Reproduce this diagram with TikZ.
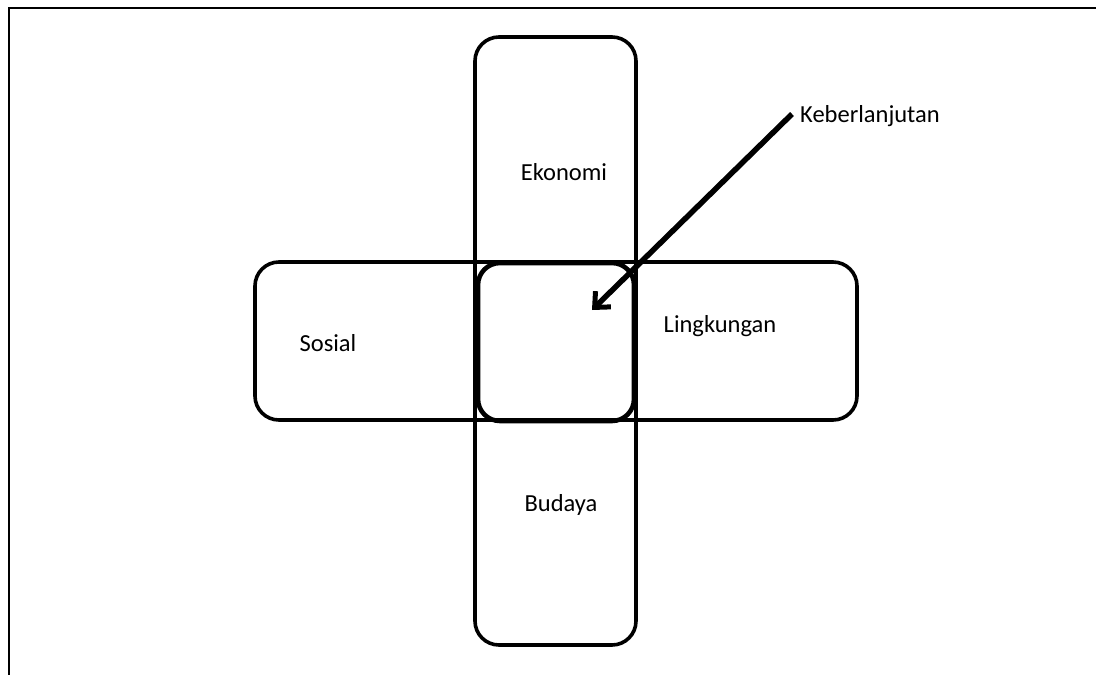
\documentclass[tikz,border=0pt]{standalone}
\usepackage{fontspec}
\setmainfont{Carlito}
\usetikzlibrary{arrows.meta}
\begin{document}
\begin{tikzpicture}[x=1pt,y=-1pt,
  box/.style={draw=black,line width=3.6pt,rounded corners=24pt,inner sep=0pt},
  lbl/.style={font=\fontsize{24.5}{28}\selectfont,inner sep=0pt,anchor=center}]
\useasboundingbox (0,0) rectangle (1096,675);
% frame
\draw[line width=2.6pt] (9,675) -- (9,8) -- (1096,8);
% vertical and horizontal boxes
\node[box,minimum width=161pt,minimum height=608pt] (vert) at (555.5,341) {};
\node[box,minimum width=602pt,minimum height=158pt] (horz) at (556,341) {};
\node[box,line width=4.6pt,rounded corners=22pt,minimum width=156pt,minimum height=158pt] (core) at (556,342) {};
% labels
\node[lbl] (eko) at (564,172) {Ekonomi};
\node[lbl] (sos) at (328,343) {Sosial};
\node[lbl] (lin) at (720,326) {Lingkungan};
\node[lbl] (bud) at (561,505) {Budaya};
\node[lbl,anchor=west] (keb) at (800,116) {Keberlanjutan};
\coordinate (tip) at (592,310);
\draw[line width=5.5pt,-{Straight Barb[length=12pt,width=22pt,line width=5pt]}] ([xshift=-8pt,yshift=2pt]keb.west) -- (tip);
\end{tikzpicture}
\end{document}
